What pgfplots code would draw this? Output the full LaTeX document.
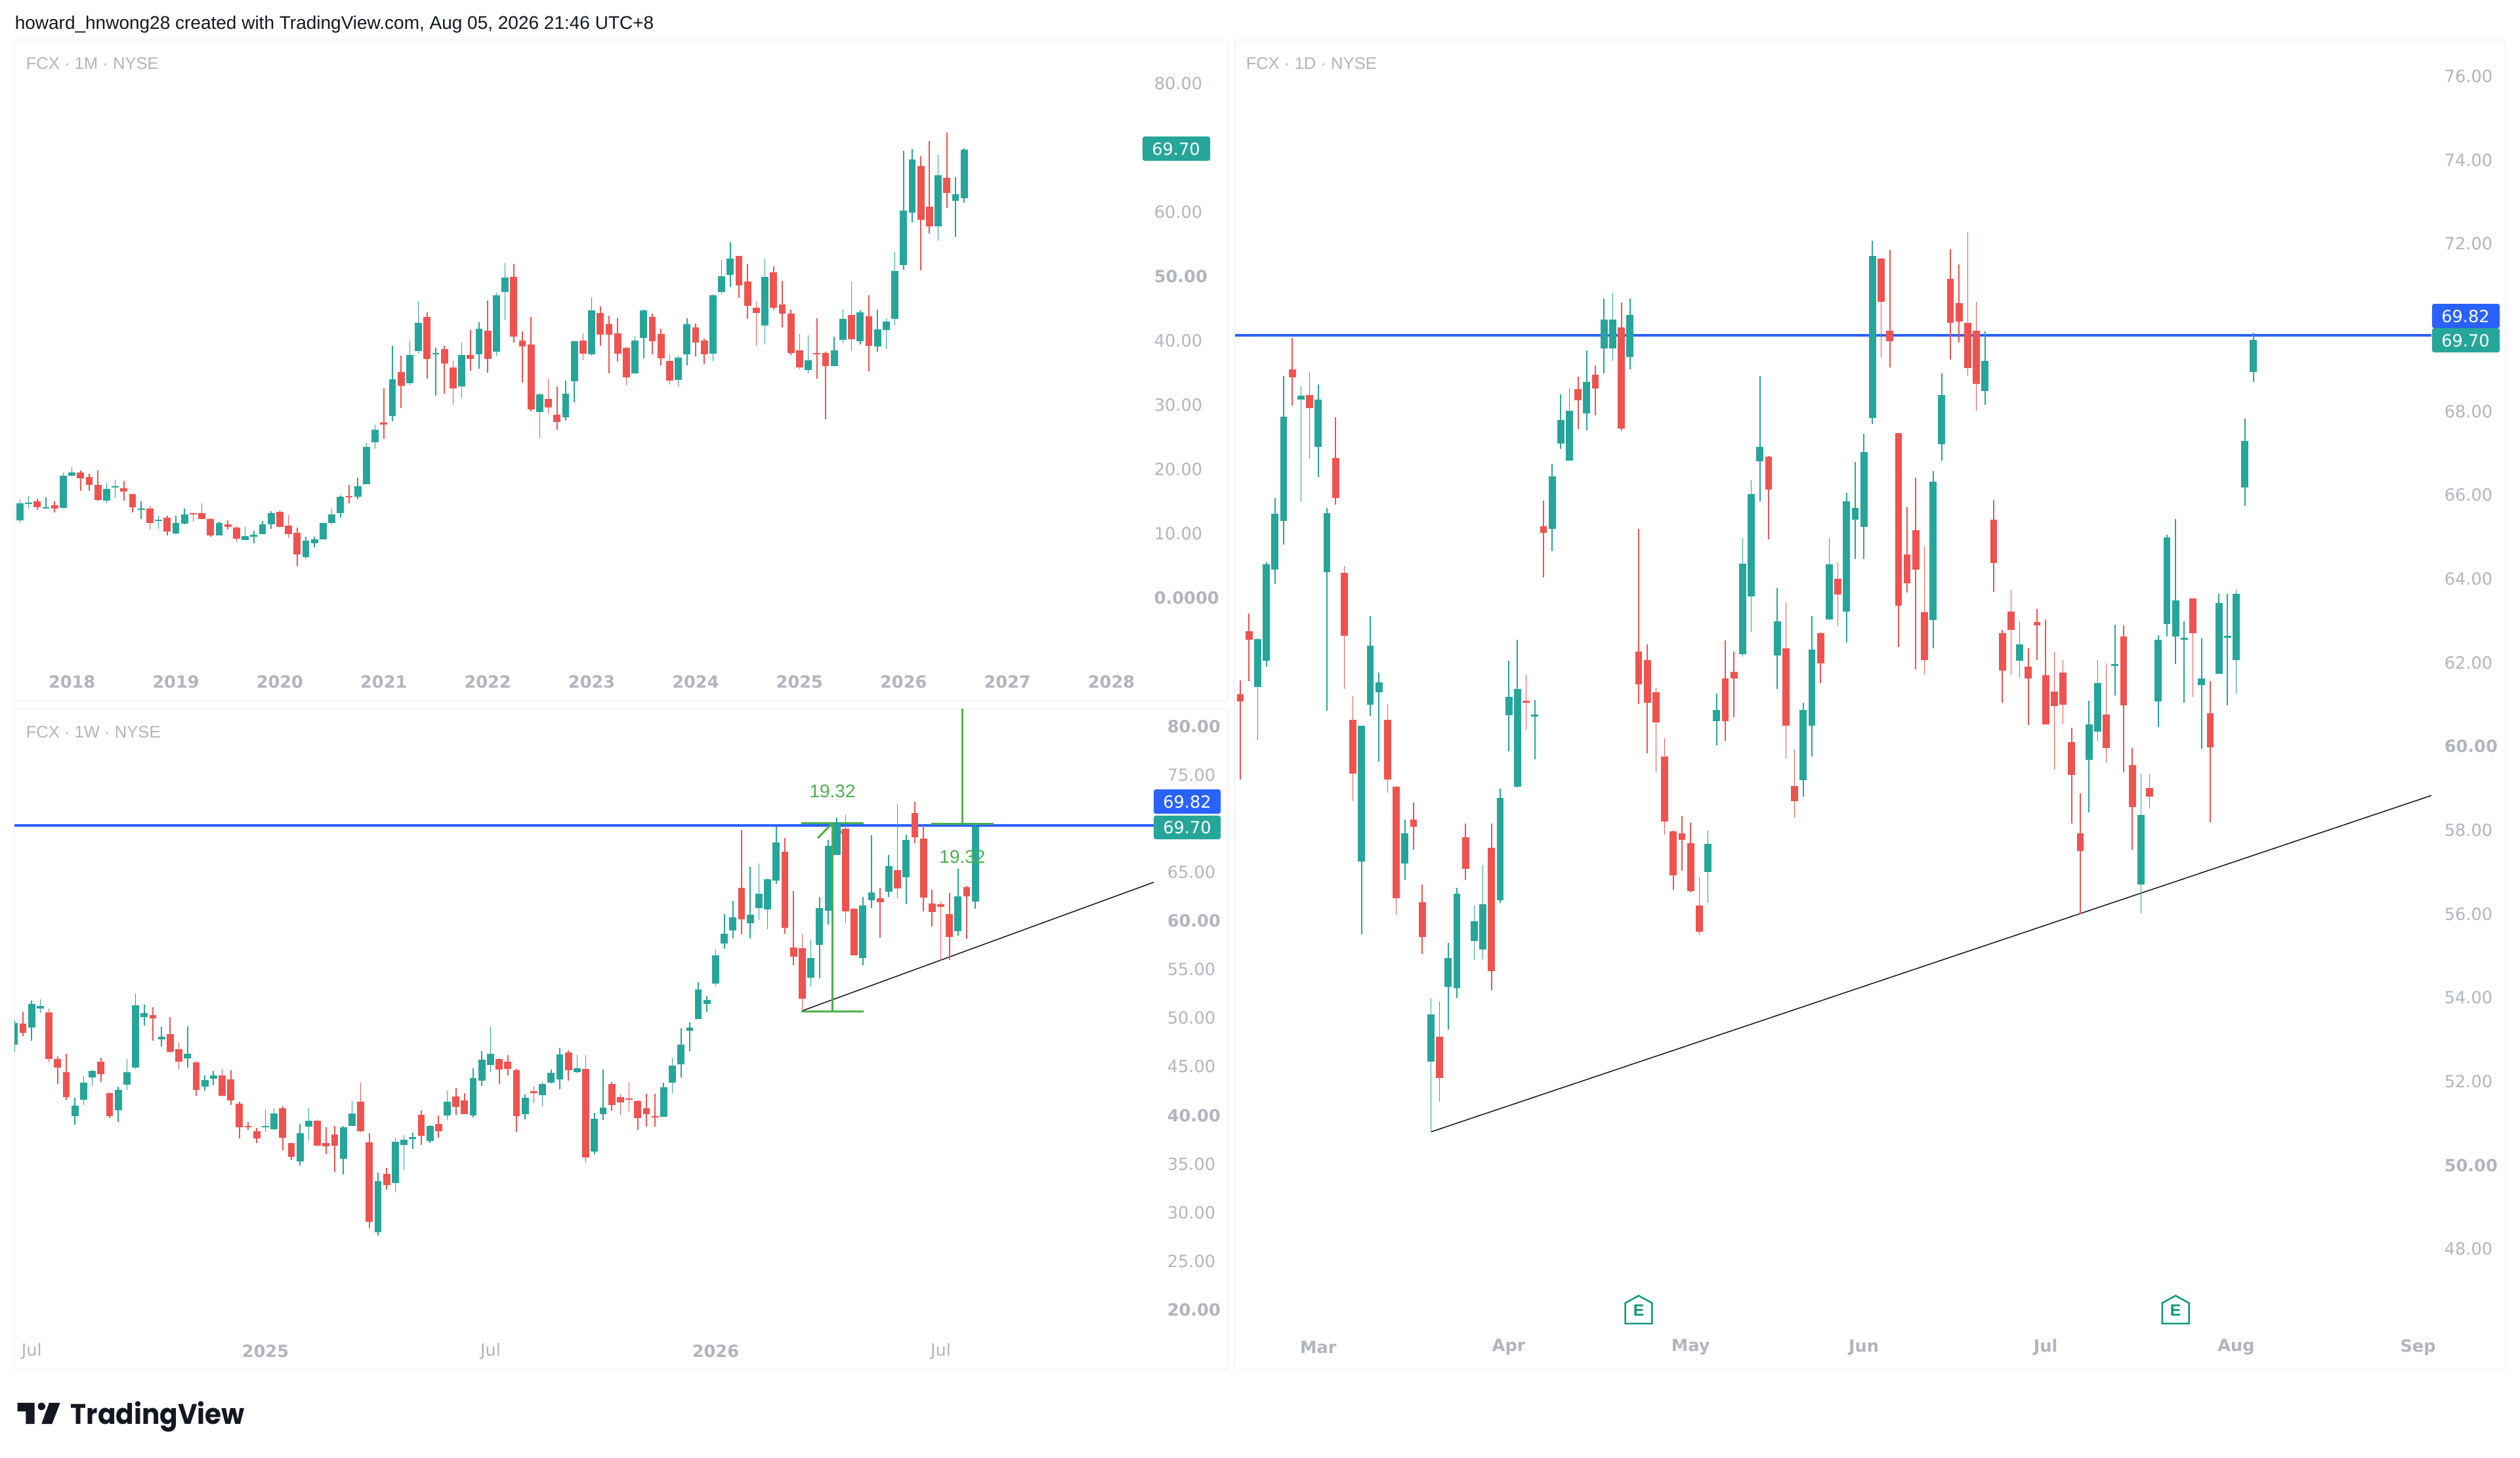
\documentclass[border=0pt]{standalone}
\usepackage{pgfplots}
\usepackage{pgfplotstable}
\usepackage{fontspec}
\pgfplotsset{compat=1.18}
\setmainfont{Liberation Sans}
\newfontfamily\tickfont{DejaVu Sans}
\newfontfamily\logofont[FakeStretch=0.94]{Poppins}
\definecolor{tvup}{HTML}{26A69A}
\definecolor{tvdn}{HTML}{EF5350}
\definecolor{tvgrey}{HTML}{B2B5BE}
\definecolor{tvblue}{HTML}{2962FF}
\definecolor{tvgreen}{HTML}{4CAF50}
\definecolor{tvframe}{HTML}{F2F3F6}
\definecolor{tvink}{HTML}{131722}
\definecolor{tvearn}{HTML}{089981}

\pgfplotstableread{
i o h l c
1 12.01 15.31 11.77 14.66
2 14.63 15.78 13.88 14.80
3 14.97 15.41 13.71 14.05
4 13.91 15.58 13.90 14.08
5 14.39 15.03 13.30 13.88
6 13.95 19.46 13.88 18.95
7 18.98 20.27 18.91 19.52
8 19.46 19.76 16.67 18.61
9 18.78 19.25 16.60 17.55
10 17.59 19.76 15.14 15.20
11 15.07 17.82 14.69 16.97
12 17.24 18.40 15.54 17.35
13 17.04 18.13 15.14 16.53
14 16.16 16.17 13.30 14.05
15 13.64 14.97 12.28 13.91
16 13.84 14.29 10.65 11.63
17 11.94 12.72 10.75 12.08
18 12.45 12.72 9.73 10.27
19 10.03 12.72 9.86 11.67
20 11.53 13.91 11.46 12.96
21 13.10 13.16 11.84 12.96
22 13.20 14.69 12.18 12.25
23 12.25 12.31 9.52 9.69
24 9.69 11.84 9.68 11.67
25 11.43 12.08 10.65 11.05
26 10.95 11.09 8.67 9.15
27 8.98 11.02 8.97 9.56
28 9.52 10.37 8.47 9.80
29 9.93 11.94 9.92 11.43
30 11.39 13.44 10.75 13.13
31 13.37 13.67 10.95 11.05
32 11.19 12.86 9.29 9.93
33 10.07 10.88 4.90 6.73
34 6.33 9.49 6.16 8.88
35 8.50 9.49 7.86 9.08
36 9.08 11.67 9.07 11.60
37 11.63 13.91 11.29 12.96
38 13.16 15.88 12.48 15.68
39 15.82 17.52 14.73 15.71
40 15.71 18.71 15.31 17.35
41 17.69 24.05 17.62 23.44
42 24.15 26.90 23.16 26.09
43 27.28 32.52 24.73 26.94
44 28.30 39.18 27.45 33.95
45 35.07 37.65 29.49 32.93
46 33.33 40.03 33.10 37.72
47 38.40 46.12 37.96 42.76
48 43.64 44.42 34.12 37.11
49 37.89 38.84 31.43 38.10
50 38.67 39.22 31.74 36.39
51 35.78 36.84 30.03 32.55
52 32.86 39.69 31.02 37.79
53 37.79 41.63 35.31 37.11
54 37.86 42.86 35.65 41.80
55 41.53 46.22 35.00 37.18
56 38.27 47.48 37.59 47.01
57 47.53 52.03 43.14 49.78
58 49.89 51.89 39.70 40.58
59 39.98 41.46 33.51 39.10
60 39.38 43.67 28.98 29.26
61 28.88 31.79 24.84 31.65
62 30.88 33.94 28.56 29.58
63 28.49 32.85 26.17 27.37
64 28.07 33.80 27.58 31.72
65 33.69 39.91 30.39 39.87
66 39.98 41.17 36.96 38.01
67 37.91 46.76 37.70 44.69
68 44.30 45.32 39.14 40.96
69 42.58 43.88 34.92 40.89
70 41.14 43.49 36.78 37.94
71 38.93 38.94 33.09 34.32
72 34.85 40.75 34.81 40.05
73 40.40 44.76 37.24 44.69
74 43.70 44.16 37.84 39.94
75 41.00 41.88 36.15 37.27
76 36.82 37.87 33.20 33.80
77 33.90 37.66 32.85 37.38
78 37.87 43.49 36.12 42.58
79 42.05 42.65 37.52 39.70
80 39.98 40.26 36.33 37.87
81 37.94 47.25 36.78 47.08
82 47.57 52.52 47.22 49.96
83 50.20 55.26 48.34 52.77
84 53.16 53.17 46.62 48.62
85 49.15 51.96 43.35 45.46
86 45.15 46.02 39.17 44.27
87 42.33 52.63 39.42 49.92
88 50.59 51.50 44.79 45.07
89 45.60 49.26 42.09 44.20
90 44.16 44.83 37.77 38.05
91 38.43 41.03 35.52 35.83
92 35.38 40.86 34.92 36.92
93 38.08 43.49 34.08 37.87
94 38.08 38.26 27.75 36.01
95 36.04 40.61 36.00 38.50
96 40.12 44.90 39.59 43.35
97 44.02 49.15 38.40 40.23
98 39.94 44.72 39.35 44.41
99 43.77 47.08 35.20 39.21
100 39.07 44.83 38.22 41.70
101 41.63 43.46 38.64 42.97
102 43.39 53.82 42.37 50.80
103 51.72 69.53 51.05 60.25
104 59.90 69.78 58.32 68.12
105 67.18 68.72 50.87 58.78
106 60.78 71.04 56.63 57.79
107 57.72 68.83 55.51 65.74
108 65.28 72.31 60.57 62.92
109 61.73 65.42 56.11 62.71
110 62.15 69.92 61.38 69.70
}\dmonth

\pgfplotstableread{
i o h l c
1 47.29 49.76 46.54 49.49
2 49.42 50.64 48.14 48.50
3 49.04 51.76 47.67 51.45
4 51.00 51.90 50.52 51.22
5 50.55 50.95 45.44 45.80
6 45.78 46.09 43.21 44.90
7 44.43 46.30 41.62 41.89
8 39.93 41.78 39.01 40.99
9 41.57 44.00 41.08 43.37
10 43.91 44.74 42.99 44.59
11 45.51 45.91 43.42 44.23
12 42.27 42.32 39.73 39.93
13 40.52 42.95 39.28 42.59
14 43.17 45.76 42.63 44.43
15 44.90 52.55 44.79 51.29
16 50.12 51.38 49.24 50.48
17 50.32 51.11 47.67 49.94
18 47.83 49.06 47.06 48.10
19 48.37 50.08 46.49 46.50
20 46.79 47.47 44.70 45.49
21 45.87 49.15 44.90 46.30
22 45.44 45.55 41.98 42.63
23 42.95 44.11 42.52 43.64
24 43.75 44.54 43.10 44.11
25 44.11 44.77 41.97 41.98
26 43.69 44.65 41.08 41.53
27 41.21 41.42 37.64 38.76
28 38.90 39.28 38.49 38.81
29 38.33 38.69 37.14 37.64
30 38.76 40.56 38.27 38.92
31 38.54 40.74 38.53 40.16
32 40.70 40.90 36.42 37.70
33 37.14 37.15 35.41 35.75
34 35.28 39.08 34.83 38.13
35 38.81 40.74 37.43 39.41
36 39.41 39.57 36.81 36.89
37 37.12 38.76 36.00 36.81
38 38.02 38.92 34.20 36.85
39 35.52 38.87 33.93 38.76
40 38.90 41.46 38.89 40.16
41 41.42 43.39 38.22 38.33
42 37.19 38.13 28.42 29.05
43 27.97 34.11 27.63 33.25
44 33.99 34.58 32.35 32.82
45 33.05 37.70 32.08 37.28
46 36.96 37.93 34.40 37.50
47 37.57 38.20 36.56 37.77
48 40.04 40.52 36.94 37.91
49 37.32 38.99 37.16 38.92
50 39.10 39.95 37.68 38.38
51 39.98 42.54 39.48 41.42
52 41.91 42.81 40.04 40.85
53 41.53 42.27 40.12 40.13
54 39.98 44.83 39.80 43.80
55 43.53 46.63 43.04 45.71
56 45.17 49.06 44.43 46.30
57 45.79 45.88 43.22 44.71
58 45.52 46.21 44.10 44.80
59 44.62 44.75 38.30 39.92
60 40.10 42.14 39.56 41.78
61 42.48 43.02 41.29 42.26
62 42.05 43.40 40.93 43.22
63 43.33 44.68 43.32 44.35
64 43.69 46.96 42.68 46.26
65 46.46 46.66 43.56 44.66
66 44.44 46.21 44.30 44.86
67 44.75 46.21 35.10 35.69
68 36.27 40.28 36.00 39.62
69 40.10 44.73 39.51 40.79
70 43.22 43.45 40.46 41.09
71 41.85 42.19 40.07 41.31
72 41.69 43.45 40.39 41.63
73 41.49 41.54 38.50 39.71
74 40.73 42.19 38.86 40.10
75 39.92 42.19 38.81 39.78
76 39.83 43.36 39.82 42.91
77 43.33 45.90 42.26 45.13
78 45.27 48.96 43.90 47.29
79 48.70 49.59 46.61 49.04
80 49.93 53.71 49.88 52.97
81 51.47 52.27 50.63 51.86
82 53.55 57.04 53.28 56.46
83 57.69 60.68 57.11 58.65
84 59.02 62.03 58.20 60.37
85 63.38 69.35 58.61 60.17
86 59.79 65.59 58.20 60.61
87 61.28 65.91 60.10 62.77
88 61.18 64.34 59.14 64.27
89 64.12 69.71 63.81 68.03
90 67.09 68.56 58.68 59.28
91 57.23 63.06 55.43 56.32
92 57.16 58.61 50.75 52.00
93 54.17 58.05 53.21 56.15
94 57.52 62.46 54.12 61.30
95 61.04 68.36 59.62 67.71
96 66.77 70.61 66.76 70.15
97 69.47 70.87 59.79 60.99
98 61.23 61.35 56.45 56.46
99 56.15 62.44 55.45 61.57
100 62.12 68.77 61.33 62.92
101 62.29 63.40 58.27 61.93
102 62.99 66.77 62.44 65.64
103 65.21 72.00 62.34 63.30
104 64.51 68.85 61.71 68.34
105 71.09 72.22 67.98 68.58
106 68.44 69.83 60.99 62.41
107 61.81 63.18 59.40 60.90
108 61.71 61.96 55.93 61.43
109 60.70 62.85 55.98 58.32
110 58.94 65.38 58.46 62.51
111 63.45 63.59 58.15 62.53
112 61.98 69.90 61.21 69.70
}\dweek

\pgfplotstableread{
i o h l c
1 61.25 61.57 59.21 61.07
2 62.76 63.18 61.56 62.55
3 61.42 62.60 60.15 62.57
4 62.04 64.40 61.90 64.35
5 64.23 65.93 63.88 65.55
6 65.39 68.84 64.82 67.88
7 69.00 69.75 68.14 68.82
8 68.28 68.61 65.83 68.38
9 68.39 68.93 66.87 68.07
10 67.15 68.64 66.43 68.28
11 64.16 65.69 60.86 65.57
12 66.89 67.86 65.77 65.93
13 64.15 64.30 61.37 62.65
14 60.64 61.20 58.70 59.36
15 57.26 60.50 55.51 60.49
16 60.99 63.11 60.73 62.40
17 61.30 61.77 59.63 61.53
18 60.64 61.02 58.90 59.21
19 59.04 59.05 55.99 56.38
20 57.20 58.26 56.81 57.93
21 58.26 58.66 57.53 58.09
22 56.29 56.71 55.05 55.45
23 52.48 53.99 50.80 53.61
24 53.07 53.92 51.52 52.08
25 54.26 55.31 53.25 54.95
26 54.23 56.62 53.99 56.48
27 57.84 58.16 56.82 57.08
28 55.35 56.21 54.91 55.83
29 55.16 57.17 54.92 56.23
30 57.58 58.16 54.18 54.64
31 56.33 59.00 56.27 58.78
32 60.74 62.04 59.89 61.19
33 59.04 62.54 59.03 61.38
34 61.09 61.72 60.40 61.05
35 60.73 61.10 59.69 60.76
36 65.25 65.87 64.04 65.10
37 65.19 66.75 64.66 66.45
38 67.23 68.41 67.11 67.80
39 66.83 68.55 66.82 68.02
40 68.54 68.83 67.57 68.27
41 67.96 69.46 67.55 68.70
42 68.87 69.10 67.90 68.55
43 69.50 70.70 68.90 70.20
44 69.50 70.84 69.20 70.20
45 70.00 70.60 67.55 67.60
46 69.30 70.70 69.00 70.30
47 62.26 65.20 61.01 61.48
48 62.06 62.44 59.84 61.05
49 61.30 61.41 59.38 60.57
50 59.76 60.20 57.89 58.21
51 57.98 57.99 56.58 56.92
52 57.92 58.34 57.03 57.77
53 57.69 58.17 56.51 56.55
54 56.20 56.89 55.50 55.57
55 57.01 57.99 56.26 57.68
56 60.61 61.27 60.02 60.88
57 61.62 62.54 60.13 60.60
58 61.78 62.27 60.70 61.63
59 62.20 64.98 62.14 64.36
60 63.59 66.35 62.74 66.02
61 66.81 68.84 65.86 67.16
62 66.92 66.93 64.95 66.13
63 62.18 63.79 61.38 62.99
64 62.35 63.44 59.71 60.50
65 59.06 59.93 58.31 58.70
66 59.19 61.05 58.81 60.87
67 60.50 63.11 59.76 62.31
68 62.71 62.72 61.52 61.99
69 63.03 64.97 63.02 64.35
70 64.01 64.39 62.87 63.63
71 63.22 66.05 62.48 65.86
72 65.42 66.79 64.47 65.70
73 65.25 67.47 64.47 67.03
74 67.85 72.08 67.71 71.71
75 71.65 71.66 69.28 70.62
76 69.92 71.86 69.05 69.67
77 67.48 67.49 62.37 63.36
78 64.59 65.71 63.68 63.90
79 65.16 66.41 61.85 64.23
80 63.20 64.77 61.72 62.07
81 63.02 66.58 62.34 66.33
82 67.21 68.90 66.83 68.39
83 71.17 71.87 69.24 70.12
84 70.58 71.51 69.64 70.14
85 70.12 72.27 68.84 69.04
86 69.93 70.61 68.02 68.66
87 68.49 69.91 68.16 69.20
88 65.42 65.88 63.70 64.38
89 62.70 62.79 61.04 61.82
90 63.22 63.74 61.71 62.79
91 62.05 62.99 61.64 62.44
92 61.90 62.34 60.51 61.62
93 62.97 63.28 62.06 62.89
94 61.70 63.04 60.52 60.53
95 61.31 62.26 59.44 60.97
96 61.77 62.07 60.53 61.00
97 60.10 60.45 58.16 59.32
98 57.93 58.88 56.00 57.50
99 59.68 61.09 58.42 60.53
100 60.36 62.06 60.13 61.51
101 60.76 61.99 59.62 59.96
102 61.94 62.91 61.21 61.96
103 62.63 62.89 59.38 60.98
104 59.55 59.96 57.54 58.56
105 56.70 59.36 56.01 58.37
106 59.01 59.34 58.52 58.80
107 61.08 62.66 60.47 62.55
108 62.92 65.06 62.63 65.00
109 62.63 65.43 61.97 63.49
110 62.56 62.99 61.05 62.59
111 63.53 63.54 61.19 62.71
112 61.47 62.58 59.94 61.63
113 60.79 61.56 58.19 59.98
114 61.74 63.64 61.73 63.43
115 62.60 63.64 60.98 62.63
116 62.06 63.74 61.27 63.64
117 66.18 67.83 65.75 67.29
118 68.94 69.88 68.70 69.70
}\dday

\newcommand\candles[2]{%
  \addplot[draw=none,mark=none,forget plot,restrict expr to domain={\thisrow{c}-\thisrow{o}}{0:1000},
    error bars/.cd,y dir=both,y explicit,error mark=none,error bar style={draw=tvup,line width=0.42pt}]
    table[x=i,y expr={(\thisrow{h}+\thisrow{l})/2},y error expr={(\thisrow{h}-\thisrow{l})/2}] {#1};
  \addplot[draw=none,mark=none,forget plot,restrict expr to domain={\thisrow{c}-\thisrow{o}}{-1000:-0.0001},
    error bars/.cd,y dir=both,y explicit,error mark=none,error bar style={draw=tvdn,line width=0.42pt}]
    table[x=i,y expr={(\thisrow{h}+\thisrow{l})/2},y error expr={(\thisrow{h}-\thisrow{l})/2}] {#1};
  \addplot[draw=none,mark=none,forget plot,restrict expr to domain={\thisrow{c}-\thisrow{o}}{0:1000},
    error bars/.cd,y dir=both,y explicit,error mark=none,error bar style={draw=tvup,line width=2.7pt}]
    table[x=i,y expr={(\thisrow{o}+\thisrow{c})/2},y error expr={max(abs(\thisrow{c}-\thisrow{o})/2,#2)}] {#1};
  \addplot[draw=none,mark=none,forget plot,restrict expr to domain={\thisrow{c}-\thisrow{o}}{-1000:-0.0001},
    error bars/.cd,y dir=both,y explicit,error mark=none,error bar style={draw=tvdn,line width=2.7pt}]
    table[x=i,y expr={(\thisrow{o}+\thisrow{c})/2},y error expr={max(abs(\thisrow{c}-\thisrow{o})/2,#2)}] {#1};
}

\pgfdeclareplotmark{earn}{%
  \pgfsetlinewidth{0.62pt}%
  \pgfsetstrokecolor{tvearn}%
  \pgfpathmoveto{\pgfpoint{0pt}{5.4pt}}%
  \pgfpathlineto{\pgfpoint{5.1pt}{2.6pt}}%
  \pgfpathlineto{\pgfpoint{5.1pt}{-5.2pt}}%
  \pgfpathlineto{\pgfpoint{-5.1pt}{-5.2pt}}%
  \pgfpathlineto{\pgfpoint{-5.1pt}{2.6pt}}%
  \pgfpathclose
  \pgfusepathqstroke
  \pgftext[center,y=-0.3pt]{\color{tvearn}\fontsize{6.2}{7}\selectfont\bfseries E}%
}

\pgfplotsset{
  tv/.style={
    scale only axis,
    axis line style={draw=none},
    tick style={draw=none},
    major tick length=0pt,
    minor tick num=0,
    xticklabel pos=lower,
    yticklabel pos=right,
    scaled ticks=false,
    tick label style={font=\tickfont\fontsize{6.4}{7}\selectfont,text=tvgrey,inner sep=0pt},
    xticklabel style={anchor=center,yshift=-7.2pt},
    yticklabel style={anchor=west},
  }
}

\begin{document}
\begin{tikzpicture}
\path[use as bounding box,fill=white] (0pt,0pt) rectangle (960pt,-555.25pt);
\begin{scope}[x=0.25pt,y=-0.25pt]
  \draw[tvframe,line width=0.4pt,rounded corners=1pt] (22,61) rectangle (1871,1068);
  \draw[tvframe,line width=0.4pt,rounded corners=1pt] (22,1080) rectangle (1871,2087);
  \draw[tvframe,line width=0.4pt,rounded corners=1pt] (1881,61) rectangle (3818,2087);
  \node[anchor=west,inner sep=0pt,text=tvink,font=\fontsize{7}{8}\selectfont] at (22,37)
    {howard\_hnwong28 created with TradingView.com, Aug 05, 2026 21:46 UTC+8};
  \node[anchor=west,inner sep=0pt,text=tvgrey,font=\fontsize{6.4}{8}\selectfont] at (39,97) {FCX · 1M · NYSE};
  \node[anchor=west,inner sep=0pt,text=tvgrey,font=\fontsize{6.4}{8}\selectfont] at (39,1116) {FCX · 1W · NYSE};
  \node[anchor=west,inner sep=0pt,text=tvgrey,font=\fontsize{6.4}{8}\selectfont] at (1898,97) {FCX · 1D · NYSE};
  % logo
  \fill[tvink] (26.7,2137.7) -- (52.7,2137.7) -- (52.7,2170) -- (39.3,2170) -- (39.3,2150.7) -- (26.7,2150.7) -- cycle;
  \fill[tvink] (63.3,2143.3) circle (5.7);
  \fill[tvink] (75,2137.7) -- (91.7,2137.7) -- (79.3,2170) -- (63.3,2170) -- cycle;
  \node[anchor=base west,inner sep=0pt,text=tvink,font=\logofont\fontsize{10.8}{13}\selectfont\bfseries] at (107,2170) {TradingView};
\end{scope}

% ---------- monthly
\begin{axis}[tv,at={(5.5pt,-252.5pt)},anchor=south west,width=429.75pt,height=237pt,
  xmin=0.36,xmax=130.6,ymin=-10.1,ymax=86.63,
  xtick={7,19,31,43,55,67,79,91,103,115,127},
  xticklabels={\textbf{2018},\textbf{2019},\textbf{2020},\textbf{2021},\textbf{2022},\textbf{2023},\textbf{2024},\textbf{2025},\textbf{2026},\textbf{2027},\textbf{2028}},
  ytick={0,10,20,30,40,50,60,80},
  yticklabels={\textbf{0.0000},10.00,20.00,30.00,40.00,\textbf{50.00},60.00,80.00},
  yticklabel style={xshift=4.25pt},
  ]
  \candles{\dmonth}{0.1}
\end{axis}

% ---------- weekly
\begin{axis}[tv,at={(5.5pt,-507.5pt)},anchor=south west,width=434pt,height=237.5pt,
  xmin=1.01,xmax=132.6,ymin=17.71,ymax=81.82,
  xtick={3,30,56,82,108},
  xticklabels={Jul,\textbf{2025},Jul,\textbf{2026},Jul},
  ytick={20,25,30,35,40,45,50,55,60,65,75,80},
  yticklabels={\textbf{20.00},25.00,30.00,35.00,\textbf{40.00},45.00,50.00,55.00,\textbf{60.00},65.00,75.00,\textbf{80.00}},
  yticklabel style={xshift=5pt},
  ]
  \addplot[tvblue,line width=0.95pt,forget plot] coordinates {(1.01,69.82) (132.6,69.82)};
  \addplot[tvink,line width=0.38pt,forget plot] coordinates {(92,50.75) (132.6,63.97)};
  \addplot[tvgreen,line width=0.75pt,forget plot] coordinates {(91.9,70.03) (99.1,70.03)};
  \addplot[tvgreen,line width=0.75pt,forget plot] coordinates {(91.9,50.71) (99.1,50.71)};
  \addplot[tvgreen,line width=0.7pt,forget plot] coordinates {(95.5,50.71) (95.5,70.03)};
  \addplot[tvgreen,line width=0.75pt,forget plot] coordinates {(93.8,68.53) (95.5,70.03) (97.2,68.53)};
  \addplot[tvgreen,line width=0.75pt,forget plot] coordinates {(106.9,69.96) (114.1,69.96)};
  \addplot[tvgreen,line width=0.7pt,forget plot] coordinates {(110.5,69.96) (110.5,81.82)};
  \addplot[draw=none,mark=none,forget plot,nodes near coords=19.32,
    every node near coord/.style={anchor=center,text=tvgreen,font=\fontsize{7}{8}\selectfont,inner sep=0pt}]
    coordinates {(95.5,73.3) (110.5,66.55)};
  \candles{\dweek}{0.07}
\end{axis}

% ---------- daily
\begin{axis}[tv,at={(470.5pt,-507.5pt)},anchor=south west,width=455.75pt,height=492pt,
  xmin=0.39,xmax=138.55,ymin=46.02,ymax=76.85,
  xtick={10,32,53,73,94,116,137},
  xticklabels={\textbf{Mar},\textbf{Apr},\textbf{May},\textbf{Jun},\textbf{Jul},\textbf{Aug},\textbf{Sep}},
  ytick={48,50,52,54,56,58,60,62,64,66,68,72,74,76},
  yticklabels={48.00,\textbf{50.00},52.00,54.00,56.00,58.00,\textbf{60.00},62.00,64.00,66.00,68.00,72.00,74.00,76.00},
  yticklabel style={xshift=4.75pt},
  xticklabel style={yshift=1.4pt},
  ]
  \addplot[tvblue,line width=0.95pt,forget plot] coordinates {(0.39,69.82) (138.55,69.82)};
  \addplot[tvink,line width=0.38pt,forget plot] coordinates {(23.03,50.80) (138.55,58.83)};
  \candles{\dday}{0.025}
  \addplot[only marks,mark=earn,forget plot] coordinates {(47,46.55) (109,46.55)};
\end{axis}

\begin{scope}[x=0.25pt,y=-0.25pt]
  \newcommand\pricebox[5]{%
    \fill[#1,rounded corners=0.8pt] (#2,#3) rectangle (#4,#5);
  }
  \pricebox{tvup}{1741}{208}{1844}{245}
  \node[text=white,inner sep=0pt,font=\tickfont\fontsize{6.4}{7}\selectfont] at (1792,227) {69.70};
  \pricebox{tvblue}{1758}{1203}{1860}{1240}
  \node[text=white,inner sep=0pt,font=\tickfont\fontsize{6.4}{7}\selectfont] at (1809,1222) {69.82};
  \pricebox{tvup}{1758}{1243}{1860}{1279}
  \node[text=white,inner sep=0pt,font=\tickfont\fontsize{6.4}{7}\selectfont] at (1809,1261) {69.70};
  \pricebox{tvblue}{3706}{463}{3809}{500}
  \node[text=white,inner sep=0pt,font=\tickfont\fontsize{6.4}{7}\selectfont] at (3757,482) {69.82};
  \pricebox{tvup}{3706}{500}{3809}{537}
  \node[text=white,inner sep=0pt,font=\tickfont\fontsize{6.4}{7}\selectfont] at (3757,519) {69.70};
\end{scope}
\end{tikzpicture}
\end{document}
